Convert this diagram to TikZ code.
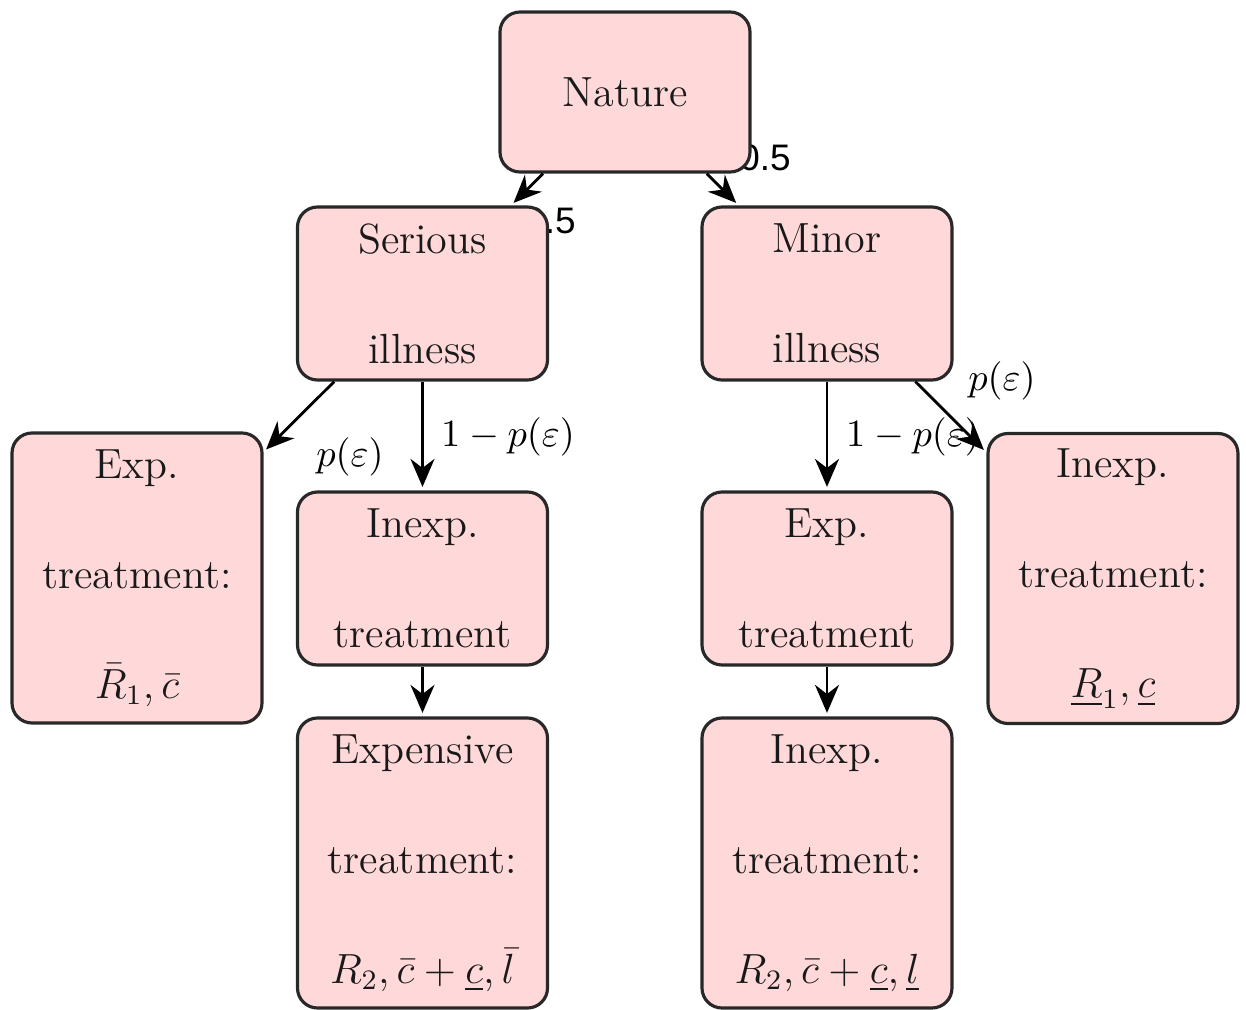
\documentclass[tikz,border=0pt]{standalone}
\usepackage{fontspec}
\usepackage{amsmath}
\usepackage{amssymb}
\usepackage{xcolor}
\usetikzlibrary{arrows.meta,backgrounds}
\newfontfamily\probfont{Liberation Sans}
\definecolor{boxpink}{RGB}{255,217,217}
\definecolor{boxline}{RGB}{40,40,40}
\tikzset{
  state/.style={draw=boxline, line width=0.9pt, fill=boxpink, rounded corners=2mm,
    minimum width=2.5cm, align=center, text=black!90,
    font={\fontsize{12}{31.3}\selectfont}},
  twoline/.style={state, minimum height=1.73cm},
  threeline/.style={state, minimum height=2.9cm},
  branch/.style={-{Stealth[length=2.8mm,width=2.4mm]}, line width=0.8pt, shorten >=1pt},
  prob/.style={font={\fontsize{11}{13}\selectfont}},
  half/.style={font={\probfont\fontsize{10.5}{12}\selectfont}}
}
\begin{document}
\begin{tikzpicture}
\useasboundingbox (0,0) rectangle (12.46,-10.10);

\node [state, minimum height=1.6cm] (nature) at (6.25,-0.92) {Nature};

\node [twoline] (serious) at (4.225,-2.935) {Serious\\illness};
\node [twoline] (minor) at (8.27,-2.935) {Minor\\illness};

\node [threeline] (expL) at (1.37,-5.78) {Exp.\\treatment:\\$\bar{R}_1,\bar{c}$};
\node [twoline] (inexpL) at (4.225,-5.785) {Inexp.\\treatment};
\node [threeline] (expensive) at (4.225,-8.63) {Expensive\\treatment:\\$R_2,\bar{c}+\underline{c},\bar{l}$};

\node [twoline] (expR) at (8.27,-5.785) {Exp.\\treatment};
\node [threeline] (inexpB) at (8.27,-8.63) {Inexp.\\treatment:\\$R_2,\bar{c}+\underline{c},\underline{l}$};
\node [threeline] (inexpR) at (11.13,-5.785) {Inexp.\\treatment:\\$\underline{R}_1,\underline{c}$};

% probabilities sit behind the boxes
\begin{scope}[on background layer]
\node [half] (halfL) at (5.50,-2.21) {0.5};
\node [half] (halfR) at (7.65,-1.58) {0.5};
\node [prob] (errL) at (3.50,-4.57) {$p(\varepsilon)$};
\node [prob] (okL) at (5.08,-4.37) {$1-p(\varepsilon)$};
\node [prob] (errR) at (10.02,-3.81) {$p(\varepsilon)$};
\node [prob] (okR) at (9.13,-4.37) {$1-p(\varepsilon)$};
\end{scope}

\draw [branch] (nature) -- (serious);
\draw [branch] (nature) -- (minor);
\draw [branch] (serious) -- (expL);
\draw [branch] (serious) -- (inexpL);
\draw [branch] (inexpL) -- (expensive);
\draw [branch] (minor) -- (expR);
\draw [branch] (minor) -- (inexpR);
\draw [branch] (expR) -- (inexpB);

\end{tikzpicture}
\end{document}
